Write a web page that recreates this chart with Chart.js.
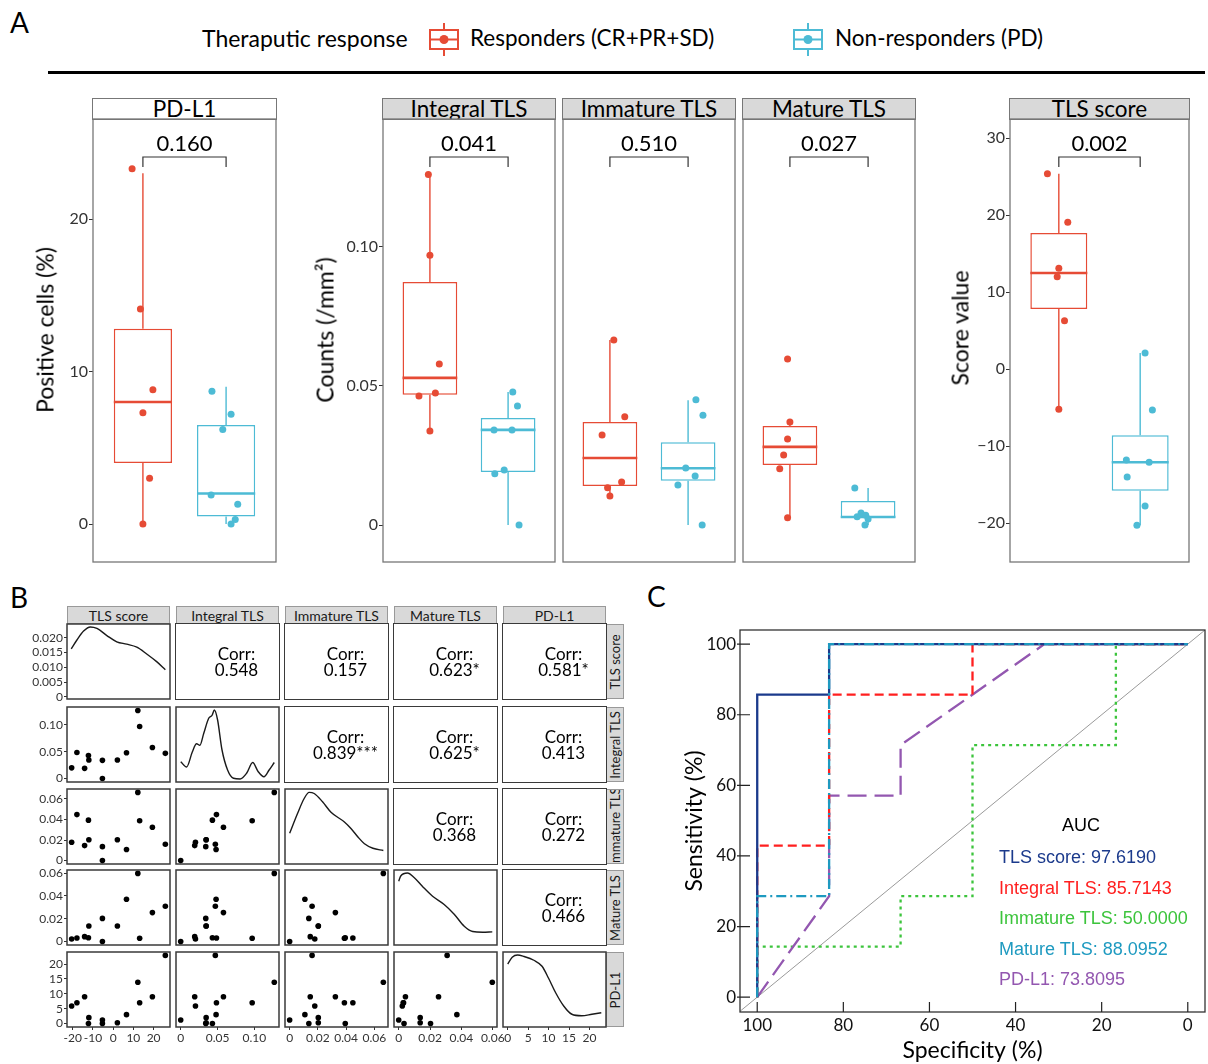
<!DOCTYPE html>
<html>
<head>
<meta charset="utf-8">
<title>TLS and PD-L1 versus therapeutic response</title>
<script src="https://cdn.jsdelivr.net/npm/chart.js@4.4.1/dist/chart.umd.min.js"></script>
<style>
  html, body { margin: 0; padding: 0; background: #fff; }
  body { position: relative; width: 1208px; height: 1064px; overflow: hidden; font-family: Lato, "Open Sans", sans-serif; color: #000; }
  canvas { position: absolute; }
  .t { position: absolute; white-space: nowrap; line-height: 1; }
  .mid { transform: translate(-50%, -50%); }
  .vmid { transform: translateY(-50%); }
  .rot { transform: translate(-50%, -50%) rotate(-90deg); }
  .strip { position: absolute; box-sizing: border-box; display: flex; align-items: center; justify-content: center; white-space: nowrap; overflow: hidden; }
  .cell { position: absolute; box-sizing: border-box; border: 1.5px solid #3a3a3a; display: flex; align-items: center; justify-content: center; }
</style>
</head>
<body>
<div class="t" style="left:10px;top:8px;font-size:28px">A</div>
<div class="t" style="left:10px;top:583px;font-size:28px">B</div>
<div class="t" style="left:647px;top:582px;font-size:28px">C</div>

<div class="t vmid" style="left:202px;top:38px;font-size:23px">Theraputic response</div>
<svg style="position:absolute;left:427px;top:21px" width="36" height="38">
  <line x1="17" y1="2" x2="17" y2="35" stroke="#E64B35" stroke-width="2"/>
  <rect x="3" y="9" width="28" height="19" fill="#fff" stroke="#E64B35" stroke-width="2"/>
  <line x1="3" y1="18.5" x2="31" y2="18.5" stroke="#E64B35" stroke-width="2"/>
  <circle cx="17" cy="18.5" r="4.5" fill="#E64B35"/>
</svg>
<div class="t vmid" style="left:470px;top:38px;font-size:22.5px">Responders (CR+PR+SD)</div>
<svg style="position:absolute;left:791px;top:21px" width="36" height="38">
  <line x1="17" y1="2" x2="17" y2="35" stroke="#4DBBD5" stroke-width="2"/>
  <rect x="3" y="9" width="28" height="19" fill="#fff" stroke="#4DBBD5" stroke-width="2"/>
  <line x1="3" y1="18.5" x2="31" y2="18.5" stroke="#4DBBD5" stroke-width="2"/>
  <circle cx="17" cy="18.5" r="4.5" fill="#4DBBD5"/>
</svg>
<div class="t vmid" style="left:835px;top:38px;font-size:22.5px">Non-responders (PD)</div>
<div style="position:absolute;left:48px;top:71px;width:1157px;height:3px;background:#000"></div>

<script>
const RED = '#E64B35', CYAN = '#4DBBD5';

// ---------- A: box plots ----------
const boxTitles = ['PD-L1', 'Integral TLS', 'Immature TLS', 'Mature TLS', 'TLS score'];
const pValues = ['0.160', '0.041', '0.510', '0.027', '0.002'];

// [min, Q1, median, Q3, max] : responders, non-responders
const boxPdl1 = [[0, 4.0, 8.0, 12.8, 23.0], [0, 0.5, 2.0, 6.5, 9.0]];
const boxIntegral = [[0.0338, 0.0468, 0.0529, 0.0874, 0.126], [0, 0.0191, 0.0342, 0.0385, 0.0478]];
const boxImmature = [[0.0104, 0.0140, 0.0241, 0.0370, 0.0665], [0, 0.0159, 0.0204, 0.0298, 0.0449]];
const boxMature = [[0.0026, 0.0216, 0.0281, 0.0356, 0.0370], [0, 0.0025, 0.0029, 0.0086, 0.0133]];
const boxScore = [[-5.2, 7.8, 12.5, 17.7, 25.4], [-20.3, -15.8, -12.1, -8.6, 2.1]];

// jittered points as plotted, with their horizontal jitter
const pdl1Resp = [23.3, 14.1, 8.8, 7.3, 3.0, 0.0];
const pdl1RespJit = [-0.13, -0.03, 0.12, 0.0, 0.08, 0.0];
const pdl1Non = [8.7, 7.2, 6.2, 1.9, 1.3, 0.3, 0.0];
const pdl1NonJit = [-0.17, 0.06, -0.04, -0.18, 0.14, 0.11, 0.06];

const integralResp = [0.126, 0.097, 0.0579, 0.0475, 0.0464, 0.0338];
const integralRespJit = [-0.02, 0.0, 0.12, 0.07, -0.14, 0.0];
const integralNon = [0.0478, 0.0428, 0.0342, 0.0342, 0.0198, 0.0184, 0.0];
const integralNonJit = [0.06, 0.12, -0.18, 0.05, -0.05, -0.17, 0.14];

const immatureResp = [0.0665, 0.0389, 0.0324, 0.0155, 0.0134, 0.0104];
const immatureRespJit = [0.05, 0.19, -0.10, 0.15, -0.03, 0.0];
const immatureNon = [0.045, 0.0395, 0.0205, 0.0176, 0.0144, 0.0];
const immatureNonJit = [0.10, 0.19, -0.03, 0.09, -0.13, 0.18];

const matureResp = [0.0597, 0.037, 0.0309, 0.0252, 0.0202, 0.0026];
const matureRespJit = [-0.03, 0.0, -0.03, -0.08, -0.13, -0.03];
const matureNon = [0.0133, 0.0043, 0.0035, 0.003, 0.0022, 0.0];
const matureNonJit = [-0.17, -0.09, -0.03, -0.14, 0.0, -0.04];

const scoreResp = [25.4, 19.1, 13.1, 12.0, 6.3, -5.2];
const scoreRespJit = [-0.14, 0.11, 0.0, -0.02, 0.07, 0.0];
const scoreNon = [2.1, -5.3, -11.8, -12.1, -14.0, -17.8, -20.3];
const scoreNonJit = [0.06, 0.15, -0.17, 0.11, -0.16, 0.06, -0.04];

const pdl1Ticks = [0, 10, 20], pdl1TickLabels = ['0', '10', '20'];
const countTicks = [0, 0.05, 0.10], countTickLabels = ['0', '0.05', '0.10'];
const scoreTicks = [-20, -10, 0, 10, 20, 30], scoreTickLabels = ['\u221220', '\u221210', '0', '10', '20', '30'];

// ---------- B: pairs ----------
const pairVars = ['TLS score', 'Integral TLS', 'Immature TLS', 'Mature TLS', 'PD-L1'];
const tlsScore = [-20.5, -17.9, -14.1, -12.2, -12.0, -5.3, -5.3, 2.1, 6.6, 12.2, 13.1, 19.4, 25.8];
const integralTls = [0.020, 0.0485, 0.019, 0.043, 0.0345, 0.034, 0.0, 0.0345, 0.048, 0.127, 0.097, 0.058, 0.047];
const immatureTls = [0.0178, 0.0448, 0.0146, 0.0394, 0.0203, 0.0136, 0.0, 0.0203, 0.0108, 0.0664, 0.0388, 0.0324, 0.0159];
const matureTls = [0.0023, 0.0031, 0.0043, 0.0034, 0.0137, 0.0203, 0.0, 0.0137, 0.0371, 0.0597, 0.0029, 0.0254, 0.0309];
const pdl1Pct = [5.9, 7.0, 9.0, 0.0, 2.0, 0.0, 1.2, 0.3, 3.0, 13.9, 7.0, 9.0, 22.9];
const corrText = [['0.548', '0.157', '0.623*', '0.581*'], ['0.839***', '0.625*', '0.413'], ['0.368', '0.272'], ['0.466']];

// density curves (first in density units, others relative)
const densTlsX = [-20.7, -17.9, -14.6, -11.3, -8.0, -3.1, 1.8, 6.7, 11.7, 16.6, 21.5, 25.8];
const densTlsY = [0.0162, 0.0192, 0.0222, 0.0236, 0.0231, 0.0207, 0.0186, 0.0178, 0.0168, 0.0145, 0.0119, 0.0092];
const densIntX = [0, 0.008, 0.0157, 0.0215, 0.026, 0.0313, 0.038, 0.0426, 0.0457, 0.050, 0.056, 0.0636, 0.0716, 0.0806, 0.0896, 0.0977, 0.105, 0.113, 0.120, 0.127];
const densIntY = [0.27, 0.20, 0.40, 0.51, 0.49, 0.65, 0.85, 0.89, 0.96, 0.83, 0.43, 0.16, 0.05, 0.04, 0.12, 0.26, 0.14, 0.07, 0.16, 0.26];
const densImmX = [0, 0.0055, 0.0102, 0.0138, 0.0174, 0.0233, 0.0293, 0.0388, 0.0436, 0.0484, 0.053, 0.059, 0.0664];
const densImmY = [0.41, 0.67, 0.87, 0.955, 0.94, 0.83, 0.69, 0.56, 0.47, 0.36, 0.27, 0.21, 0.18];
const densMatX = [0, 0.0013, 0.0056, 0.0098, 0.0152, 0.0216, 0.029, 0.0354, 0.0418, 0.0472, 0.0536, 0.0597];
const densMatY = [0.85, 0.92, 0.96, 0.90, 0.78, 0.65, 0.54, 0.41, 0.25, 0.18, 0.17, 0.175];
const densPdX = [0, 1.1, 2.4, 4.0, 6.4, 8.4, 10.0, 11.7, 13.7, 15.7, 18.1, 20.6, 22.9];
const densPdY = [0.84, 0.93, 0.96, 0.94, 0.89, 0.81, 0.65, 0.46, 0.28, 0.17, 0.15, 0.17, 0.19];

const pairRanges = [[-22.8, 28.1], [-0.0064, 0.1334], [-0.0033, 0.0697], [-0.003, 0.0627], [-1.15, 24.05]];
const densRange = [-0.0007, 0.0246];
const densTicks = [0, 0.005, 0.010, 0.015, 0.020], densTickLabels = ['0', '0.005', '0.010', '0.015', '0.020'];
const pairTicks = [[-20, -10, 0, 10, 20], [0, 0.05, 0.10], [0, 0.02, 0.04, 0.06], [0, 0.02, 0.04, 0.06], [0, 5, 10, 15, 20]];
const pairTickLabels = [['-20', '-10', '0', '10', '20'], ['0', '0.05', '0.10'], ['0', '0.02', '0.04', '0.06'], ['0', '0.02', '0.04', '0.06'], ['0', '5', '10', '15', '20']];

// ---------- C: ROC ----------
const rocNames = ['TLS score', 'Integral TLS', 'Immature TLS', 'Mature TLS', 'PD-L1'];
const rocAuc = ['97.6190', '85.7143', '50.0000', '88.0952', '73.8095'];
const rocSpecTls = [100, 100, 83.3, 83.3, 0], rocSensTls = [0, 85.7, 85.7, 100, 100];
const rocSpecInt = [100, 100, 83.3, 83.3, 50, 50, 0], rocSensInt = [0, 42.9, 42.9, 85.7, 85.7, 100, 100];
const rocSpecImm = [100, 100, 66.7, 66.7, 50, 50, 16.7, 16.7, 0], rocSensImm = [0, 14.3, 14.3, 28.6, 28.6, 71.4, 71.4, 100, 100];
const rocSpecMat = [100, 100, 83.3, 83.3, 0], rocSensMat = [0, 28.6, 28.6, 100, 100];
const rocSpecPd = [100, 83.3, 83.3, 66.7, 66.7, 33.3, 0], rocSensPd = [0, 28.6, 57.1, 57.1, 71.4, 100, 100];
const rocTicks = [0, 20, 40, 60, 80, 100];

Chart.defaults.font.family = 'Lato, "Open Sans", sans-serif';
Chart.defaults.color = '#333';
Chart.defaults.animation = false;
Chart.defaults.events = [];
Chart.defaults.plugins.legend.display = false;
Chart.defaults.plugins.tooltip.enabled = false;

function addCanvas(left, top, w, h) {
  const c = document.createElement('canvas');
  c.width = w; c.height = h;
  c.style.left = left + 'px'; c.style.top = top + 'px';
  c.style.width = w + 'px'; c.style.height = h + 'px';
  document.body.appendChild(c);
  return c;
}
function addDiv(cls, css, html) {
  const d = document.createElement('div');
  d.className = cls; d.style.cssText = css;
  if (html !== undefined) d.innerHTML = html;
  document.body.appendChild(d);
  return d;
}

const framePlugin = {
  id: 'frame',
  defaults: { color: '#777', width: 1.3 },
  afterDatasetsDraw(chart, args, o) {
    const a = chart.chartArea, ctx = chart.ctx;
    ctx.save();
    ctx.strokeStyle = o.color; ctx.lineWidth = o.width;
    ctx.strokeRect(a.left, a.top, a.right - a.left, a.bottom - a.top);
    ctx.restore();
  }
};

// whiskers + median on top of the floating bars
const boxPlugin = {
  id: 'boxStats',
  afterDatasetDraw(chart, args) {
    const ds = chart.data.datasets[args.index];
    if (!ds.stats) return;
    const y = chart.scales.y, ctx = chart.ctx;
    args.meta.data.forEach((bar, i) => {
      const s = ds.stats[i];
      ctx.save();
      ctx.strokeStyle = ds.borderColor[i];
      ctx.lineWidth = 1.4;
      ctx.beginPath();
      ctx.moveTo(bar.x, y.getPixelForValue(s[3])); ctx.lineTo(bar.x, y.getPixelForValue(s[4]));
      ctx.moveTo(bar.x, y.getPixelForValue(s[1])); ctx.lineTo(bar.x, y.getPixelForValue(s[0]));
      ctx.stroke();
      const ym = y.getPixelForValue(s[2]);
      ctx.lineWidth = 2.6;
      ctx.beginPath();
      ctx.moveTo(bar.x - bar.width / 2, ym); ctx.lineTo(bar.x + bar.width / 2, ym);
      ctx.stroke();
      ctx.restore();
    });
  }
};

const bracketPlugin = {
  id: 'bracket',
  afterDraw(chart, args, o) {
    if (!o.text) return;
    const x = chart.scales.x, a = chart.chartArea, ctx = chart.ctx;
    const x1 = x.getPixelForValue(1), x2 = x.getPixelForValue(2);
    ctx.save();
    ctx.strokeStyle = '#333'; ctx.lineWidth = 1.2;
    ctx.beginPath();
    ctx.moveTo(x1, a.top + 48); ctx.lineTo(x1, a.top + 38);
    ctx.lineTo(x2, a.top + 38); ctx.lineTo(x2, a.top + 48);
    ctx.stroke();
    ctx.fillStyle = '#000';
    ctx.font = '22px Lato, "Open Sans", sans-serif';
    ctx.textAlign = 'center'; ctx.textBaseline = 'middle';
    ctx.fillText(o.text, (x1 + x2) / 2, a.top + 25);
    ctx.restore();
  }
};

function tickAxis(ticks, labels, size, pad, tickLen) {
  return {
    afterBuildTicks: s => { s.ticks = ticks.map(v => ({ value: v })); },
    ticks: { callback: (v, i) => labels[i], font: { size: size }, color: '#333', padding: pad, autoSkip: false, maxRotation: 0 },
    grid: { drawOnChartArea: false, drawTicks: true, tickLength: tickLen, tickColor: '#333', tickWidth: 1 },
    border: { display: false }
  };
}

// ---------- draw A ----------
const A_TOP = 119, A_H = 443;
const boxPanels = [
  { left: 93, width: 183, axisW: 30, range: [-2.49, 26.56], ticks: pdl1Ticks, labels: pdl1TickLabels, stats: boxPdl1, resp: pdl1Resp, rj: pdl1RespJit, non: pdl1Non, nj: pdl1NonJit, strip: '#fff' },
  { left: 383, width: 172, axisW: 45, range: [-0.0133, 0.146], ticks: countTicks, labels: countTickLabels, stats: boxIntegral, resp: integralResp, rj: integralRespJit, non: integralNon, nj: integralNonJit, strip: '#d9d9d9' },
  { left: 563, width: 172, axisW: 0, range: [-0.0133, 0.146], ticks: countTicks, labels: countTickLabels, stats: boxImmature, resp: immatureResp, rj: immatureRespJit, non: immatureNon, nj: immatureNonJit, strip: '#d9d9d9' },
  { left: 743, width: 172, axisW: 0, range: [-0.0133, 0.146], ticks: countTicks, labels: countTickLabels, stats: boxMature, resp: matureResp, rj: matureRespJit, non: matureNon, nj: matureNonJit, strip: '#d9d9d9' },
  { left: 1010, width: 179, axisW: 40, range: [-25.06, 32.5], ticks: scoreTicks, labels: scoreTickLabels, stats: boxScore, resp: scoreResp, rj: scoreRespJit, non: scoreNon, nj: scoreNonJit, strip: '#d9d9d9' }
];

boxPanels.forEach((pn, k) => {
  addDiv('strip', `left:${pn.left - 0.6}px;top:98px;width:${pn.width + 1.2}px;height:22px;background:${pn.strip};border:1.3px solid #777;font-size:22.5px;padding-bottom:2px`, boxTitles[k]);
  const pad = 10;
  const cv = addCanvas(pn.left - pn.axisW - pad, A_TOP - pad, pn.axisW + pn.width + 2 * pad, A_H + 2 * pad);
  const pts = [], cols = [];
  pn.resp.forEach((v, i) => { pts.push({ x: 1 + pn.rj[i], y: v }); cols.push(RED); });
  pn.non.forEach((v, i) => { pts.push({ x: 2 + pn.nj[i], y: v }); cols.push(CYAN); });
  const yAxis = Object.assign({
    min: pn.range[0], max: pn.range[1], display: pn.axisW > 0,
    afterFit: s => { s.width = pn.axisW; s.paddingTop = 0; s.paddingBottom = 0; }
  }, tickAxis(pn.ticks, pn.labels, 16, 1, 4));
  new Chart(cv, {
    type: 'bar',
    data: {
      datasets: [
        { type: 'bar', data: pn.stats.map((s, i) => ({ x: i + 1, y: [s[1], s[3]] })), stats: pn.stats,
          backgroundColor: '#fff', borderColor: [RED, CYAN], borderWidth: 1.5, borderSkipped: false,
          categoryPercentage: 1, barPercentage: 0.7, order: 2 },
        { type: 'scatter', data: pts, pointBackgroundColor: cols, pointBorderWidth: 0, pointRadius: 3.5, order: 1 }
      ]
    },
    options: {
      responsive: false,
      layout: { padding: pad },
      plugins: { frame: { color: '#777', width: 1.3 }, bracket: { text: pValues[k] } },
      scales: {
        x: { type: 'linear', min: 0.4, max: 2.6, offset: false, display: false,
             afterBuildTicks: s => { s.ticks = [{ value: 1 }, { value: 2 }]; } },
        y: yAxis
      }
    },
    plugins: [framePlugin, boxPlugin, bracketPlugin]
  });
});
addDiv('t rot', 'left:45px;top:330px;font-size:23px', 'Positive cells (%)');
addDiv('t rot', 'left:325px;top:330px;font-size:23px', 'Counts (/mm\u00b2)');
addDiv('t rot', 'left:960px;top:328px;font-size:23px', 'Score value');

// ---------- draw B ----------
const B_COLS = [67, 176, 285, 394, 503], B_ROWS = [624, 707, 789, 870, 952], B_W = 103, B_H = 75;
const pairData = [tlsScore, integralTls, immatureTls, matureTls, pdl1Pct];
const densX = [densTlsX, densIntX, densImmX, densMatX, densPdX];
const densY = [densTlsY, densIntY, densImmY, densMatY, densPdY];

pairVars.forEach((v, i) => {
  addDiv('strip', `left:${B_COLS[i]}px;top:606px;width:${B_W}px;height:18px;background:#d9d9d9;border:1px solid #999;font-size:14px;color:#1a1a1a`, v);
  addDiv('strip', `left:606px;top:${B_ROWS[i]}px;width:18px;height:${B_H}px;background:#d9d9d9;border:1px solid #999;font-size:13px;color:#1a1a1a`,
    `<span style="display:inline-block;transform:rotate(-90deg)">${v}</span>`);
});

for (let r = 0; r < 5; r++) {
  for (let c = 0; c < 5; c++) {
    const left = B_COLS[c], top = B_ROWS[r];
    if (c > r) {
      addDiv('cell', `left:${left - 0.75}px;top:${top - 0.75}px;width:${B_W + 1.5}px;height:${B_H + 1.5}px`,
        `<div style="text-align:center;font-size:17px;line-height:0.92;padding-left:18px">Corr:<br>${corrText[r][c - r - 1]}</div>`);
      continue;
    }
    const yW = c === 0 ? 40 : 0, xH = r === 4 ? 24 : 0, pad = 14;
    const cv = addCanvas(left - yW - pad, top - pad, yW + B_W + 2 * pad, B_H + xH + 2 * pad);
    let ds, yRange, yT, yL;
    if (r === c) {
      ds = { type: 'line', data: densX[r].map((x, i) => ({ x: x, y: densY[r][i] })), borderColor: '#1a1a1a',
             borderWidth: 1.4, pointRadius: 0, cubicInterpolationMode: 'monotone', fill: false };
      yRange = r === 0 ? densRange : [0, 1];
    } else {
      ds = { type: 'scatter', data: pairData[c].map((x, i) => ({ x: x, y: pairData[r][i] })),
             pointBackgroundColor: '#000', pointBorderWidth: 0, pointRadius: 2.8 };
      yRange = pairRanges[r];
    }
    if (r === 0) { yT = densTicks; yL = densTickLabels; yRange = densRange; }
    else { yT = pairTicks[r]; yL = pairTickLabels[r]; }
    new Chart(cv, {
      type: 'scatter',
      data: { datasets: [ds] },
      options: {
        responsive: false,
        layout: { padding: pad },
        plugins: { frame: { color: '#3a3a3a', width: 1.5 } },
        scales: {
          x: Object.assign({ type: 'linear', min: pairRanges[c][0], max: pairRanges[c][1], display: r === 4,
               afterFit: s => { s.height = xH; s.paddingLeft = 0; s.paddingRight = 0; } },
               tickAxis(pairTicks[c], pairTickLabels[c], 12, 1, 3)),
          y: Object.assign({ type: 'linear', min: yRange[0], max: yRange[1], display: c === 0,
               afterFit: s => { s.width = yW; s.paddingTop = 0; s.paddingBottom = 0; } },
               tickAxis(yT, yL, 12, 1, 3))
        }
      },
      plugins: [framePlugin]
    });
  }
}

// ---------- draw C ----------
const rocStyle = [
  { color: '#1b3a8c', dash: [], order: 1 },
  { color: '#ff1f1f', dash: [9, 5], order: 2 },
  { color: '#3cc43c', dash: [3, 4], order: 4 },
  { color: '#1e9ac0', dash: [10, 4, 2, 4], order: 0 },
  { color: '#9357b0', dash: [19, 8], order: 3 }
];
const rocSpec = [rocSpecTls, rocSpecInt, rocSpecImm, rocSpecMat, rocSpecPd];
const rocSens = [rocSensTls, rocSensInt, rocSensImm, rocSensMat, rocSensPd];
const specMin = -4, specMax = 104;

const innerTicks = {
  id: 'innerTicks',
  afterDraw(chart) {
    const { x, y } = chart.scales, a = chart.chartArea, ctx = chart.ctx;
    ctx.save(); ctx.strokeStyle = '#222'; ctx.lineWidth = 1.2;
    ctx.beginPath();
    rocTicks.forEach(v => {
      const px = x.getPixelForValue(v), py = y.getPixelForValue(v);
      ctx.moveTo(px, a.bottom); ctx.lineTo(px, a.bottom - 10);
      ctx.moveTo(a.left - 3, py); ctx.lineTo(a.left + 10, py);
    });
    ctx.stroke(); ctx.restore();
  }
};

const rocDatasets = rocNames.map((n, k) => ({
  type: 'line', label: n,
  data: rocSpec[k].map((s, i) => ({ x: s, y: rocSens[k][i] })),
  borderColor: rocStyle[k].color, borderDash: rocStyle[k].dash, borderWidth: 2.3,
  pointRadius: 0, tension: 0, fill: false, order: rocStyle[k].order
}));
rocDatasets.push({
  type: 'line', label: 'chance',
  data: [{ x: specMax, y: 100 - specMax }, { x: specMin, y: 100 - specMin }],
  borderColor: '#9a9a9a', borderWidth: 1, pointRadius: 0, order: 9
});

const cvC = addCanvas(670, 624, 538, 440);
new Chart(cvC, {
  type: 'scatter',
  data: { datasets: rocDatasets },
  options: {
    responsive: false,
    layout: { padding: { left: 2, top: 6, right: 3, bottom: 0 } },
    plugins: { frame: { color: '#333', width: 1.3 } },
    scales: {
      x: {
        type: 'linear', min: specMin, max: specMax, reverse: true,
        afterFit: s => { s.height = 52; s.paddingLeft = 0; s.paddingRight = 0; },
        afterBuildTicks: s => { s.ticks = rocTicks.map(v => ({ value: v })); },
        ticks: { font: { size: 17 }, color: '#111', padding: 3, autoSkip: false, maxRotation: 0 },
        grid: { display: false, drawTicks: false, tickLength: 0 },
        border: { display: false },
        title: { display: true, text: 'Specificity (%)', font: { size: 23 }, color: '#000', padding: 0 }
      },
      y: {
        type: 'linear', min: -4.2, max: 104,
        afterFit: s => { s.width = 68; s.paddingTop = 0; s.paddingBottom = 0; },
        afterBuildTicks: s => { s.ticks = rocTicks.map(v => ({ value: v })); },
        ticks: { font: { size: 17 }, color: '#111', padding: 4, autoSkip: false },
        grid: { display: false, drawTicks: false, tickLength: 0 },
        border: { display: false },
        title: { display: true, text: 'Sensitivity (%)', font: { size: 23 }, color: '#000', padding: { top: 9, bottom: 0 } }
      }
    }
  },
  plugins: [framePlugin, innerTicks]
});

addDiv('t mid', 'left:1081px;top:825px;font-size:18px;font-family:"Liberation Sans",Arial,sans-serif', 'AUC');
rocNames.forEach((n, k) => {
  addDiv('t vmid', `left:999px;top:${857 + k * 30.5}px;font-size:18px;font-family:"Liberation Sans",Arial,sans-serif;color:${rocStyle[k].color}`,
    `${n}: ${rocAuc[k]}`);
});
</script>
</body>
</html>
